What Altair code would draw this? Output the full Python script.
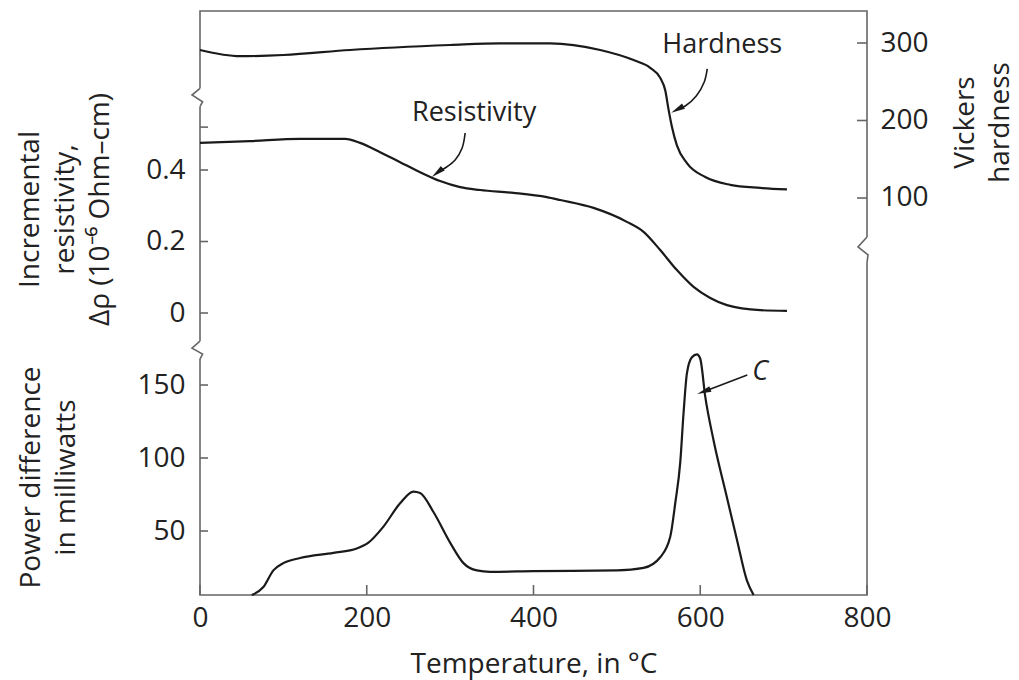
import altair as alt
import pandas as pd

W, H = 667, 584
FONT = "Open Sans"
INK = "#222222"
FRAME = "#666666"

# ---------------- data ----------------
hard_T = [0, 48, 100, 180, 300, 360, 420, 480, 520, 540, 552, 558, 562, 566, 572, 584, 606, 636, 672, 704]
hard_H = [291, 283, 284.5, 291, 297.4, 299.6, 299.6, 291, 278, 268, 255, 239, 214, 192, 168, 145, 127, 117, 113, 111]

res_T = [0, 60, 120, 174, 192, 216, 240, 264, 288, 312, 336, 376, 416, 432, 472, 512, 532, 552, 572, 592, 612, 632, 672, 704]
res_R = [0.476, 0.481, 0.487, 0.487, 0.476, 0.450, 0.422, 0.394, 0.369, 0.352, 0.344, 0.336, 0.324,
         0.316, 0.294, 0.255, 0.227, 0.176, 0.120, 0.073, 0.042, 0.022, 0.008, 0.006]

pow_T = [62, 76, 88, 100, 120, 160, 188, 202, 220, 240, 256, 264, 280, 300, 316, 332, 348, 400, 500, 532,
         552, 564, 570, 576, 580, 584, 590, 596, 600, 606, 616, 632, 644, 656, 664]
pow_P = [6.2, 11.6, 23, 28, 31.5, 35, 38, 42, 53, 69, 77, 76, 63, 42, 28, 23, 22, 22.5, 23, 24.7,
         32, 46, 69, 97, 131, 158, 169, 171, 168, 142, 112, 73, 44, 16, 6.2]

x_ticks = [0, 200, 400, 600, 800]
res_ticks = [0, 0.2, 0.4, 0.52]
res_labels = [0, 0.2, 0.4]
pow_ticks = [50, 100, 150]
hard_ticks = [100, 200, 300]

# scale domains (whole plot height)
X_DOM = [0, 800]
RES_DOM = [-0.7888, 0.8448]
POW_DOM = [6.16, 406.2]
HARD_DOM = [-412.3, 341.3]

# axis-break zigzags (temperature, value in the matching scale)
brk_left_T = [0, -9.6, 3.1, 0]
brk_left_R = [0.6285, 0.6098, 0.591, 0.577]
brk_low_T = [0, -9.6, 3.1, 0]
brk_low_P = [180.1, 175.3, 171.2, 167.8]
brk_right_T = [800, 789.2, 801.2, 800]
brk_right_H = [49.7, 36.8, 26.5, 16.2]

# annotation arrows
arr_hard_T = [608.4, 604.8, 595.2, 582, 573.6]
arr_hard_H = [266.5, 249.7, 231.6, 218.7, 214.9]
arr_res_T = [318, 314.4, 306, 294, 285.6]
arr_res_R = [0.5035, 0.4615, 0.428, 0.4056, 0.3944]
arr_c_T = [656.4, 605.4]
arr_c_P = [156.8, 145.8]

ARROW_PATH = "M0,-1L0.38,0.75L-0.38,0.75Z"

x_axis = alt.Axis(values=x_ticks, orient="bottom", labelPadding=9, labelFlush=False,
                  title="Temperature, in °C",
                  titleX=W / 2, titleY=77, titleBaseline="alphabetic", titleAlign="center")


# ---------------- helpers ----------------
def X():
    return alt.X("T:Q", scale=alt.Scale(domain=X_DOM, nice=False, zero=False), axis=x_axis)


def Y(field, dom, axis=None):
    return alt.Y(f"{field}:Q", scale=alt.Scale(domain=dom, nice=False, zero=False), axis=axis)


def df(**cols):
    return pd.DataFrame(cols)


curve = dict(color="#1a1a1a", strokeWidth=2.2, interpolate="monotone")

res_axis = alt.Axis(values=res_labels, orient="left", labelPadding=15, format="~g", labelFlush=False,
                    title=["Incremental", "resistivity,", "Δρ (10⁻⁶ Ohm–cm)"],
                    titleAngle=270, titleAlign="center", titleBaseline="middle",
                    titleX=-170, titleY=198, titleLineHeight=35)
pow_axis = alt.Axis(values=pow_ticks, orient="left", labelPadding=15, labelFlush=False,
                    title=["Power difference", "in milliwatts"],
                    titleAngle=270, titleAlign="center", titleBaseline="middle",
                    titleX=-169, titleY=466, titleLineHeight=35)
hard_axis = alt.Axis(values=hard_ticks, orient="right", labelPadding=13, labelFlush=False,
                     title=["Vickers", "hardness"],
                     titleAngle=270, titleAlign="center", titleBaseline="middle",
                     titleX=98, titleY=111, titleLineHeight=35)

layers = []

# main curves with their axes
layers.append(alt.Chart(df(T=res_T, R=res_R)).mark_line(**curve).encode(
    x=X(), y=Y("R", RES_DOM, res_axis)))
layers.append(alt.Chart(df(T=pow_T, P=pow_P)).mark_line(**curve).encode(
    x=X(), y=Y("P", POW_DOM, pow_axis)))
layers.append(alt.Chart(df(T=hard_T, Hv=hard_H)).mark_line(**curve).encode(
    x=X(), y=Y("Hv", HARD_DOM, hard_axis)))

# inward ticks
tick_style = dict(color=FRAME, strokeWidth=1.6)
layers.append(alt.Chart(df(T=x_ticks)).mark_rule(**tick_style).encode(
    x=X(), y=alt.value(H - 10), y2=alt.value(H)))
layers.append(alt.Chart(df(R=res_ticks)).mark_rule(**tick_style).encode(
    y=Y("R", RES_DOM), x=alt.value(0), x2=alt.value(8)))
layers.append(alt.Chart(df(P=pow_ticks)).mark_rule(**tick_style).encode(
    y=Y("P", POW_DOM), x=alt.value(0), x2=alt.value(8)))
layers.append(alt.Chart(df(Hv=hard_ticks)).mark_rule(**tick_style).encode(
    y=Y("Hv", HARD_DOM), x=alt.value(W - 10), x2=alt.value(W)))


# axis breaks: white gap + zigzag
def brk(Ts, Vs, dom, xpix):
    gap = alt.Chart(df(a=[Vs[0]], b=[Vs[-1]])).mark_rule(color="white", strokeWidth=6).encode(
        x=alt.value(xpix),
        y=alt.Y("a:Q", scale=alt.Scale(domain=dom, nice=False, zero=False), axis=None),
        y2="b:Q")
    zig = alt.Chart(df(T=Ts, V=Vs, i=list(range(len(Ts))))).mark_line(color=FRAME, strokeWidth=1.6).encode(
        x=X(), y=alt.Y("V:Q", scale=alt.Scale(domain=dom, nice=False, zero=False), axis=None),
        order="i:Q")
    return [gap, zig]


layers += brk(brk_left_T, brk_left_R, RES_DOM, 0)
layers += brk(brk_low_T, brk_low_P, POW_DOM, 0)
layers += brk(brk_right_T, brk_right_H, HARD_DOM, W)

# annotations
text_style = dict(font=FONT, fontSize=27, color=INK, align="center", baseline="middle")
layers.append(alt.Chart(df(T=[626.4], Hv=[297.4], t=["Hardness"])).mark_text(**text_style).encode(
    x=X(), y=Y("Hv", HARD_DOM), text="t:N"))
layers.append(alt.Chart(df(T=[328.8], R=[0.560], t=["Resistivity"])).mark_text(**text_style).encode(
    x=X(), y=Y("R", RES_DOM), text="t:N"))
layers.append(alt.Chart(df(T=[672], P=[158.9], t=["C"])).mark_text(fontStyle="italic", **text_style).encode(
    x=X(), y=Y("P", POW_DOM), text="t:N"))

arrow_line = dict(color="#1a1a1a", strokeWidth=1.6, interpolate="catmull-rom")


def arrow(Ts, Vs, dom, angle):
    line = alt.Chart(df(T=Ts, V=Vs, i=list(range(len(Ts))))).mark_line(**arrow_line).encode(
        x=X(), y=alt.Y("V:Q", scale=alt.Scale(domain=dom, nice=False, zero=False), axis=None),
        order="i:Q")
    head = alt.Chart(df(T=[Ts[-1]], V=[Vs[-1]])).mark_point(
        shape=ARROW_PATH, filled=True, size=256, angle=angle, color="#1a1a1a", opacity=1).encode(
        x=X(), y=alt.Y("V:Q", scale=alt.Scale(domain=dom, nice=False, zero=False), axis=None))
    return [line, head]


layers += arrow(arr_hard_T, arr_hard_H, HARD_DOM, 241)
layers += arrow(arr_res_T, arr_res_R, RES_DOM, 231)
layers += arrow(arr_c_T, arr_c_P, POW_DOM, 249)

chart = alt.layer(*layers).resolve_scale(y="independent").properties(
    width=W, height=H,
    autosize=alt.AutoSizeParams(type="none"),
    padding={"left": 200, "top": 11, "right": 152, "bottom": 85},
    background="white",
).configure_view(
    stroke=FRAME, strokeWidth=1.6
).configure_axis(
    grid=False, domain=False, ticks=False,
    labelFont=FONT, labelFontSize=28, labelColor=INK,
    titleFont=FONT, titleFontSize=28, titleFontWeight="normal", titleColor=INK,
)

chart.save("out.html", embed_options={"renderer": "svg", "actions": False})
